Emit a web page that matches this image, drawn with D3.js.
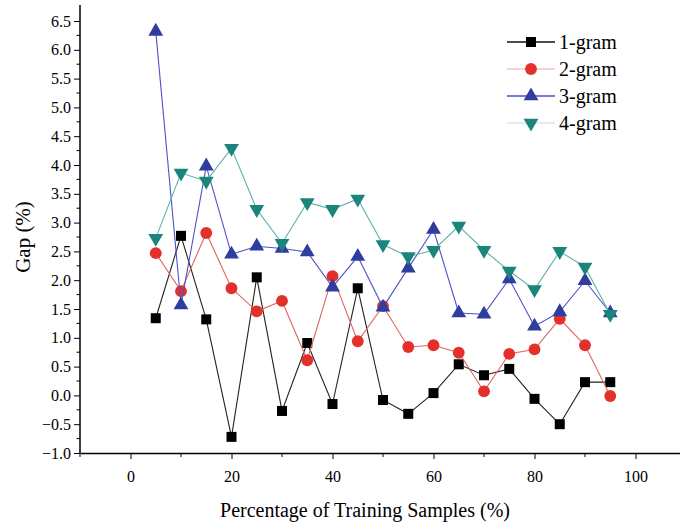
<!DOCTYPE html>
<html>
<head>
<meta charset="utf-8">
<script src="https://cdn.jsdelivr.net/npm/d3@7"></script>
<style>
  body { margin: 0; background: #fff; }
  svg { display: block; font-family: "Liberation Serif", "Times New Roman", serif; }
  svg text { font-family: "Liberation Serif", "Times New Roman", serif; }
</style>
</head>
<body>
<svg id="chart" width="680" height="529"></svg>
<script>
const samples = [5, 10, 15, 20, 25, 30, 35, 40, 45, 50, 55, 60, 65, 70, 75, 80, 85, 90, 95];
const gram1 = [1.34, 2.77, 1.32, -0.72, 2.05, -0.27, 0.91, -0.15, 1.86, -0.08, -0.32, 0.04, 0.54, 0.35, 0.46, -0.06, -0.5, 0.23, 0.23];
const gram2 = [2.47, 1.81, 2.82, 1.86, 1.46, 1.64, 0.61, 2.07, 0.94, 1.55, 0.84, 0.87, 0.74, 0.07, 0.72, 0.8, 1.33, 0.87, -0.01];
const gram3 = [6.32, 1.57, 3.98, 2.45, 2.59, 2.55, 2.49, 1.88, 2.41, 1.53, 2.21, 2.88, 1.43, 1.41, 2.02, 1.2, 1.45, 1.99, 1.43];
const gram4 = [2.73, 3.86, 3.72, 4.29, 3.23, 2.64, 3.35, 3.23, 3.41, 2.62, 2.41, 2.52, 2.94, 2.52, 2.16, 1.84, 2.5, 2.23, 1.41];
const seriesNames = ["1-gram", "2-gram", "3-gram", "4-gram"];
const xTicks = [0, 20, 40, 60, 80, 100];
const yTicks = [-1.0, -0.5, 0.0, 0.5, 1.0, 1.5, 2.0, 2.5, 3.0, 3.5, 4.0, 4.5, 5.0, 5.5, 6.0, 6.5];

const svg = d3.select("#chart");

const x = d3.scaleLinear().domain([-10, 110]).range([80, 686]);
const y = d3.scaleLinear().domain([-1, 6.5]).range([453, 21]);
const yTop = 5;

const styles = [
  { line: "#222", fill: "#000", legendLine: "#111", symbol: d3.symbolSquare, size: 100, rot: 0 },
  { line: "#e0665f", fill: "#e3302a", legendLine: "#f3c4c0", symbol: d3.symbolCircle, size: 110, rot: 0 },
  { line: "#5051cc", fill: "#2f3d9e", legendLine: "#4b4ccc", symbol: d3.symbolTriangle, size: 95, rot: 0 },
  { line: "#62b2aa", fill: "#1b857c", legendLine: "#d3e9e6", symbol: d3.symbolTriangle, size: 95, rot: 180 }
];
const allSeries = [gram1, gram2, gram3, gram4];

// axes
const xAxisG = svg.append("g")
  .attr("transform", `translate(0, ${y(-1)})`)
  .call(d3.axisBottom(x).tickValues(xTicks).tickFormat(d3.format("d")).tickSize(6).tickSizeOuter(0));
xAxisG.append("g").selectAll("line")
  .data([-10, 10, 30, 50, 70, 90, 110])
  .enter().append("line")
  .attr("x1", d => x(d)).attr("x2", d => x(d))
  .attr("y1", 0).attr("y2", 4)
  .attr("stroke", "#000");

const yAxisG = svg.append("g")
  .attr("transform", `translate(${x(-10)}, 0)`)
  .call(d3.axisLeft(y).tickValues(yTicks).tickFormat(d3.format(".1f")).tickSize(6).tickSizeOuter(0));
yAxisG.select(".domain").attr("d", `M0,${yTop}V${y(-1)}`);
yAxisG.append("g").selectAll("line")
  .data(d3.range(-0.75, 6.6, 0.5))
  .enter().append("line")
  .attr("x1", 0).attr("x2", -3.5)
  .attr("y1", d => y(d)).attr("y2", d => y(d))
  .attr("stroke", "#000");

svg.selectAll("g").attr("font-family", null);
svg.selectAll(".domain").attr("stroke", "#000").attr("stroke-width", 1.5);
svg.selectAll(".tick line").attr("stroke", "#000");
svg.selectAll(".tick text")
  .attr("font-size", 16)
  .attr("fill", "#000");
xAxisG.selectAll(".tick text").attr("dy", "1.25em");
yAxisG.selectAll(".tick text").attr("x", -9);

// axis titles
svg.append("text")
  .attr("x", 365).attr("y", 517)
  .attr("text-anchor", "middle")
  .attr("font-size", 20)
  .text("Percentage of Training Samples (%)");

svg.append("text")
  .attr("transform", "translate(30, 237) rotate(-90)")
  .attr("text-anchor", "middle")
  .attr("font-size", 21)
  .text("Gap (%)");

// series
const line = d3.line().x((d, i) => x(samples[i])).y(d => y(d));

allSeries.forEach((vals, k) => {
  const st = styles[k];
  const g = svg.append("g");
  g.append("path")
    .datum(vals)
    .attr("d", line)
    .attr("fill", "none")
    .attr("stroke", st.line)
    .attr("stroke-width", 1.1);
  g.selectAll("path.mark")
    .data(vals)
    .enter().append("path")
    .attr("class", "mark")
    .attr("d", d3.symbol().type(st.symbol).size(st.size))
    .attr("transform", (d, i) => `translate(${x(samples[i])}, ${y(d)}) rotate(${st.rot})`)
    .attr("fill", st.fill);
});

// legend
const legend = svg.append("g").attr("transform", "translate(507, 42)");
seriesNames.forEach((name, k) => {
  const st = styles[k];
  const row = legend.append("g").attr("transform", `translate(0, ${k * 27})`);
  row.append("line")
    .attr("x1", 0).attr("x2", 48)
    .attr("y1", 0).attr("y2", 0)
    .attr("stroke", st.legendLine)
    .attr("stroke-width", 1.3);
  row.append("path")
    .attr("d", d3.symbol().type(st.symbol).size(st.size))
    .attr("transform", `translate(24, 0) rotate(${st.rot})`)
    .attr("fill", st.fill);
  row.append("text")
    .attr("x", 52).attr("y", 7)
    .attr("font-size", 20)
    .text(name);
});
</script>
</body>
</html>
